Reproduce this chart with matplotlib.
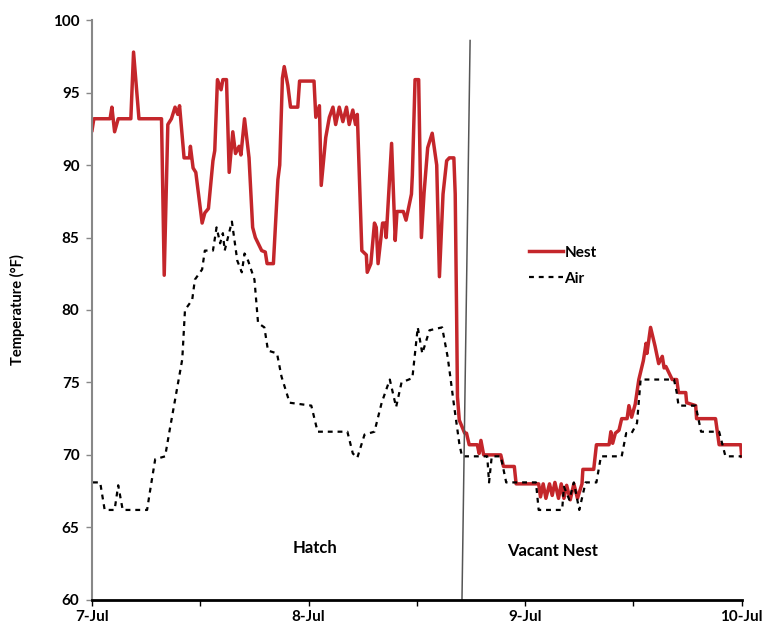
import matplotlib
matplotlib.use("Agg")
from matplotlib import pyplot as plt
from matplotlib.ticker import MultipleLocator

# hours since 7-Jul 00:00, temperatures in F
nestHours = [0.0, 0.2, 2.0, 2.2, 2.5, 2.9, 4.3, 4.6, 5.2, 7.7, 8.0, 8.4, 8.8, 9.2, 9.5, 9.7,
             10.2, 10.8, 10.9, 11.2, 11.5, 12.2, 12.5, 12.9, 13.4, 13.6, 13.9, 14.3, 14.5, 14.9,
             15.2, 15.6, 15.9, 16.3, 16.5, 16.9, 17.4, 17.8, 18.1, 18.8, 19.2, 19.4, 20.1, 20.6,
             20.8, 21.1, 21.3, 21.7, 22.0, 22.8, 23.0, 24.6, 24.8, 25.2, 25.4, 25.9, 26.3, 26.7,
             27.0, 27.4, 27.8, 28.2, 28.5, 28.9, 29.2, 29.4, 29.9, 30.4, 30.5, 30.9, 31.3, 31.5,
             31.7, 32.2, 32.5, 32.6, 33.2, 33.6, 33.8, 34.5, 34.8, 35.4, 35.5, 35.8, 36.2, 36.5,
             36.8, 37.2, 37.7, 38.2, 38.5, 38.9, 39.3, 39.6, 40.1, 40.25, 40.4, 40.5, 40.7, 41.3,
             41.5, 41.8, 42.7, 42.9, 43.1, 43.4, 45.3, 45.6, 46.8, 47.0, 49.5, 49.7, 50.0, 50.3,
             50.7, 51.0, 51.3, 51.7, 52.0, 52.3, 52.6, 53.0, 53.4, 53.8, 54.3, 54.4, 55.6, 55.9,
             57.3, 57.5, 57.7, 58.0, 58.4, 58.7, 59.3, 59.5, 59.8, 60.2, 60.6, 61.1, 61.4, 61.5,
             61.9, 62.4, 62.8, 63.2, 63.4, 63.6, 64.3, 64.8, 65.0, 65.8, 65.9, 66.9, 67.0, 69.1,
             69.5, 71.9, 72.0]
nestTemp = [92.4, 93.2, 93.2, 94.0, 92.3, 93.2, 93.2, 97.8, 93.2, 93.2, 82.4, 92.8, 93.2, 94.0, 93.5, 94.1,
            90.5, 90.5, 91.3, 89.8, 89.5, 86.0, 86.7, 87.0, 90.3, 91.0, 95.9, 95.2, 95.9, 95.9,
            89.5, 92.3, 90.8, 91.3, 90.7, 93.2, 90.5, 85.7, 85.0, 84.1, 84.0, 83.2, 83.2, 89.0,
            90.0, 96.0, 96.8, 95.5, 94.0, 94.0, 95.8, 95.8, 93.3, 94.1, 88.6, 91.9, 93.3, 94.0,
            92.8, 94.0, 93.0, 94.0, 92.8, 93.8, 92.8, 93.5, 84.1, 83.8, 82.6, 83.2, 86.0, 85.7,
            83.2, 86.0, 86.0, 85.0, 91.5, 84.8, 86.8, 86.8, 86.2, 88.0, 89.3, 95.9, 95.9, 85.0,
            88.1, 91.2, 92.2, 90.0, 82.3, 88.0, 90.3, 90.5, 90.5, 88.0, 80.0, 74.0, 72.4, 71.5,
            71.5, 70.7, 70.7, 70.1, 71.0, 70.0, 70.0, 69.2, 69.2, 68.0, 68.0, 67.1, 68.0, 67.0,
            68.0, 67.2, 68.1, 67.0, 68.0, 67.0, 67.9, 66.9, 68.0, 67.0, 68.0, 69.0, 69.0, 70.7,
            70.7, 71.6, 70.8, 71.5, 71.7, 72.5, 72.5, 73.4, 72.6, 73.5, 75.2, 76.5, 77.7, 77.0,
            78.8, 77.5, 76.3, 76.8, 76.0, 76.1, 75.2, 75.2, 74.3, 74.3, 73.6, 73.4, 72.5, 72.5,
            70.7, 70.7, 69.9]

airHours = [0.1, 0.9, 1.4, 2.5, 2.9, 3.4, 6.1, 6.4, 7.0, 8.1, 8.6, 9.2, 10.0, 10.3, 11.1, 11.4,
            12.2, 12.5, 13.4, 13.8, 14.2, 14.5, 14.7, 15.5, 16.1, 16.6, 16.9, 17.3, 18.0, 18.4,
            19.1, 19.5, 20.5, 21.0, 21.9, 24.3, 25.0, 28.3, 28.9, 29.4, 30.2, 31.3, 32.1, 33.0,
            33.7, 34.3, 35.5, 36.1, 36.6, 37.4, 38.8, 39.4, 39.6, 40.1, 40.7, 41.0, 43.8, 44.0,
            44.3, 45.3, 45.9, 49.2, 49.5, 52.1, 52.3, 52.9, 53.4, 54.0, 54.7, 55.9, 56.4, 58.7,
            59.2, 59.8, 60.4, 60.8, 64.5, 64.8, 65.0, 66.9, 67.5, 69.5, 70.2, 72.0]
airTemp = [68.1, 68.1, 66.2, 66.2, 67.9, 66.2, 66.2, 67.4, 69.7, 69.9, 71.7, 73.8, 76.6, 80.0, 80.7, 82.1,
           82.8, 84.1, 84.1, 85.7, 84.6, 85.3, 84.1, 86.1, 83.4, 82.6, 83.9, 83.4, 82.1, 79.1,
           78.8, 77.2, 77.0, 75.4, 73.6, 73.4, 71.6, 71.6, 70.1, 69.8, 71.4, 71.6, 73.6, 75.2,
           73.3, 75.0, 75.3, 78.8, 77.0, 78.6, 78.8, 76.8, 75.9, 73.5, 70.8, 69.9, 69.9, 68.1,
           69.9, 69.9, 68.1, 68.1, 66.2, 66.2, 67.8, 66.9, 68.1, 66.2, 68.1, 68.1, 69.9, 69.9,
           71.5, 71.5, 72.2, 75.2, 75.2, 74.3, 73.4, 73.4, 71.6, 71.6, 69.9, 69.9]

dayTicks = [0, 24, 48, 72]
dayLabels = ["7-Jul", "8-Jul", "9-Jul", "10-Jul"]
vacatedHours = [41.9, 41.0]   # divider top / bottom (drawn slightly leaning in original)
vacatedTemps = [98.6, 60.0]

plt.rcParams['font.family'] = ['Lato', 'DejaVu Sans']
plt.rcParams['font.weight'] = 'bold'

fig = plt.figure(figsize=(7.67, 6.32), dpi=100)
ax = fig.add_axes([0.12, 0.051, 0.847, 0.917])

ax.plot(nestHours, nestTemp, color="#c4262b", lw=2.5, label="Nest", solid_joinstyle="round")
ax.plot(airHours, airTemp, color="black", lw=1.6, ls=(0, (2.2, 2.2)), label="Air")
ax.plot(vacatedHours, vacatedTemps, color="#555555", lw=1.1)

ax.text(24.7, 63.6, "Hatch", ha="center", va="center", fontsize=12, fontweight="bold")
ax.text(51, 63.4, "Vacant Nest", ha="center", va="center", fontsize=12, fontweight="bold")

ax.set_xlim(0, 72)
ax.set_ylim(60, 100)
ax.set_xticks(dayTicks)
ax.set_xticklabels(dayLabels)
ax.xaxis.set_minor_locator(MultipleLocator(12))
ax.yaxis.set_major_locator(MultipleLocator(5))
ax.tick_params(axis="both", labelsize=11, length=4, width=1, direction="out")
ax.tick_params(axis="x", which="minor", length=4, width=1)
ax.tick_params(axis="y", colors="#888888", labelcolor="black", pad=5)
ax.set_ylabel("Temperature (°F)", fontsize=10.5, fontweight="bold", labelpad=20)

for s in ["top", "right"]:
    ax.spines[s].set_visible(False)
ax.spines["left"].set_color("#888888")
ax.spines["left"].set_linewidth(1.5)
ax.spines["bottom"].set_linewidth(2)

leg = ax.legend(loc="upper left", bbox_to_anchor=(0.652, 0.635), frameon=False,
                fontsize=11, handlelength=2.2, handletextpad=0.1, labelspacing=0.8)

fig.savefig("out.png", dpi=100)
